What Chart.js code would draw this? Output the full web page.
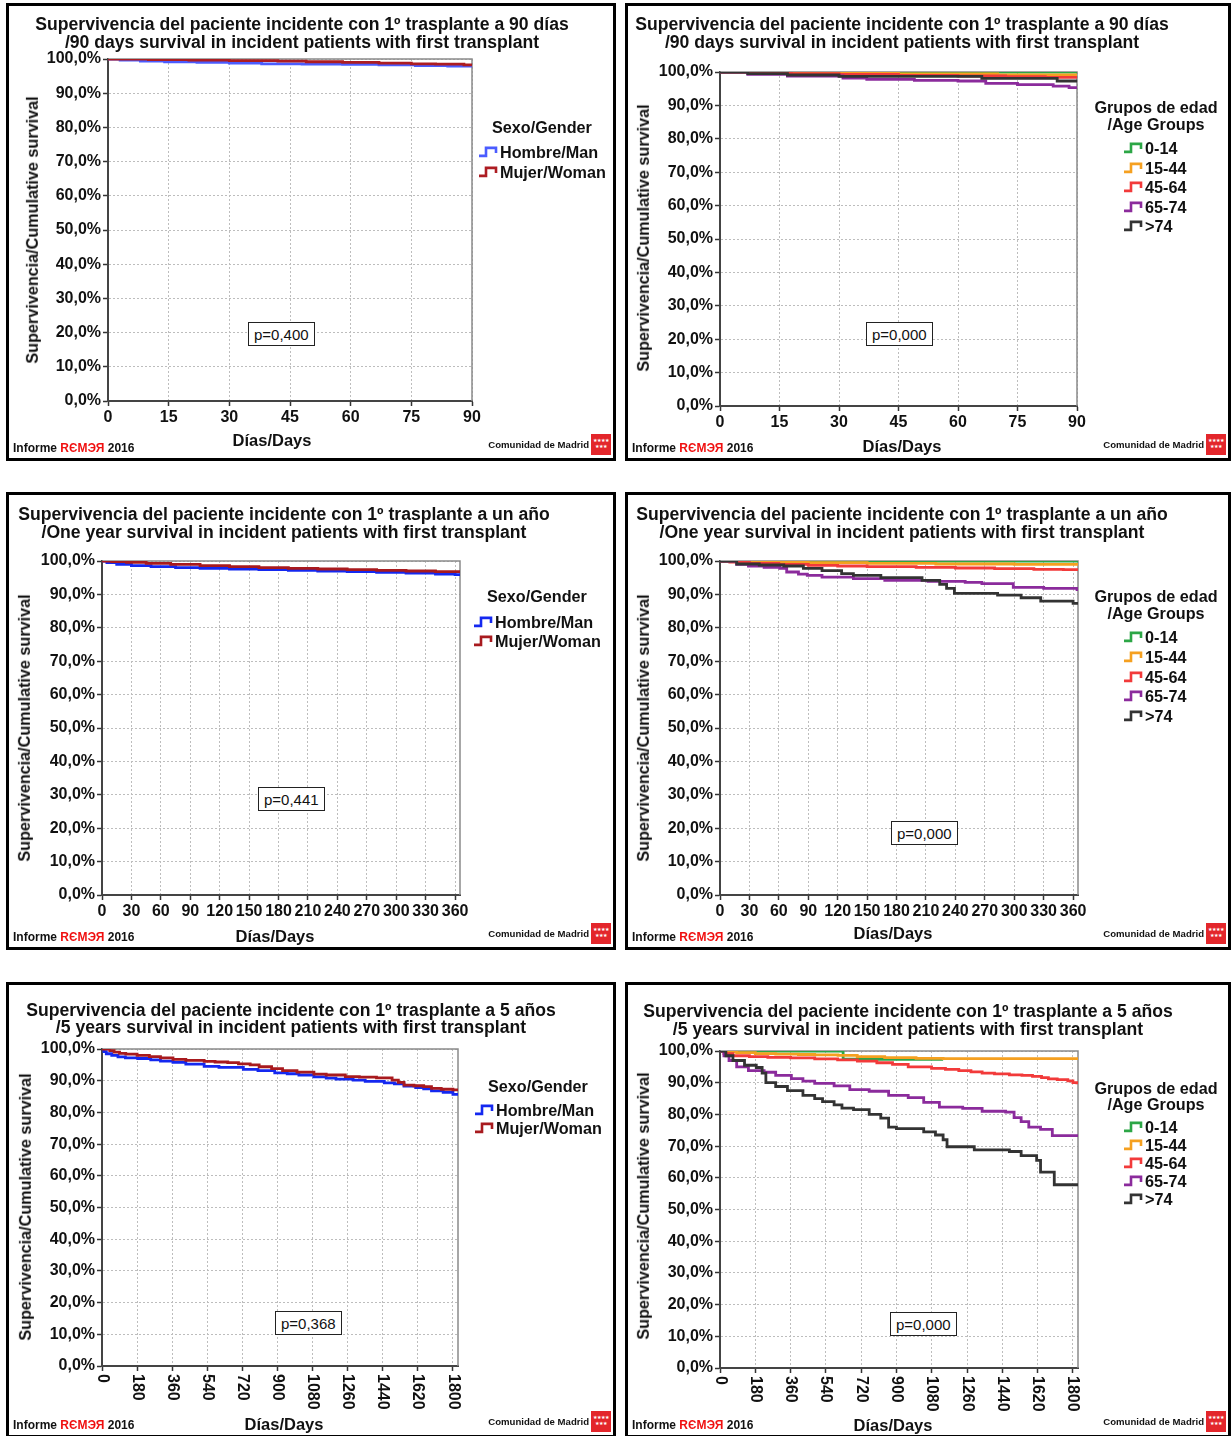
<!DOCTYPE html>
<html>
<head>
<meta charset="utf-8">
<script src="https://cdn.jsdelivr.net/npm/chart.js@4/dist/chart.umd.min.js"></script>
<style>
  html, body { margin: 0; padding: 0; background: #fff; }
  body { width: 1231px; height: 1436px; position: relative; overflow: hidden;
         font-family: "Liberation Sans", Arial, sans-serif; color: #111; }
  .panel { position: absolute; border: 3px solid #000; box-sizing: border-box; }
  canvas { position: absolute; }
  .t { position: absolute; white-space: nowrap; font-weight: bold; line-height: 1; }
  .ttl { font-size: 17.6px; }
  .axt { font-size: 16.2px; }
  .xt { font-size: 16.5px; }
  .legt { font-size: 16.2px; }
  .leg { font-size: 16.2px; display: flex; align-items: center; }
  .leg svg { margin-right: 1px; }
  .pbox { font-weight: normal; font-size: 15px; border: 1px solid #222; background: #fff;
          padding: 4px 5px 3px 5px; z-index: 5; }
  .foot { font-size: 12px; }
  .foot span { color: #f01010; }
  .mad { font-size: 9.6px; }
  .logo { position: absolute; width: 20px; height: 21px; background: #e3262b; color: #fff;
          font-size: 5px; line-height: 6px; text-align: center; padding-top: 3px; box-sizing: border-box; }
</style>
</head>
<body>
<script>
"use strict";

// ---- ejes / axes ----
const xTicks90 = [0, 15, 30, 45, 60, 75, 90];
const xTicks1y = [0, 30, 60, 90, 120, 150, 180, 210, 240, 270, 300, 330, 360];
const xTicks5y = [0, 180, 360, 540, 720, 900, 1080, 1260, 1440, 1620, 1800];
const yTicks = [0, 10, 20, 30, 40, 50, 60, 70, 80, 90, 100];

const genderLabels = ["Hombre/Man", "Mujer/Woman"];
const ageLabels = ["0-14", "15-44", "45-64", "65-74", ">74"];
const pValues = ["p=0,400", "p=0,000", "p=0,441", "p=0,000", "p=0,368", "p=0,000"];

// ---- 90 días, sexo ----
const man90Days   = [0, 3, 8, 14, 22, 30, 38, 48, 58, 67, 76, 84, 90];
const man90Surv   = [100, 99.7, 99.4, 99.2, 99.0, 98.8, 98.6, 98.5, 98.4, 98.3, 98.1, 97.9, 97.8];
const woman90Days = [0, 10, 20, 30, 42, 49, 58, 67, 75, 81, 88, 90];
const woman90Surv = [100, 99.8, 99.7, 99.5, 99.4, 99.2, 99.0, 98.8, 98.6, 98.5, 98.3, 98.3];

// ---- 90 días, edad ----
const a0_14_90Days  = [0, 90];
const a0_14_90Surv  = [100, 100];
const a15_44_90Days = [0, 25, 45, 70, 90];
const a15_44_90Surv = [100, 99.7, 99.4, 99.1, 99.1];
const a45_64_90Days = [0, 8, 18, 30, 45, 60, 72, 82, 90];
const a45_64_90Surv = [100, 99.8, 99.5, 99.3, 99.0, 98.8, 98.6, 98.4, 98.3];
const a65_74_90Days = [0, 7, 17, 31, 37, 49, 60, 67, 75, 84, 88, 90];
const a65_74_90Surv = [100, 99.3, 98.8, 98.2, 97.8, 97.5, 97.3, 96.6, 96.2, 95.8, 95.3, 95.3];
const a74_90Days    = [0, 7, 17, 30, 66, 85, 90];
const a74_90Surv    = [100, 99.5, 99.1, 98.7, 98.1, 97.3, 97.3];

// ---- un año, sexo ----
const man1yDays   = [0, 5, 15, 30, 50, 75, 100, 130, 160, 190, 220, 250, 280, 310, 340, 360, 365];
const man1ySurv   = [100, 99.5, 99.0, 98.6, 98.3, 98.0, 97.8, 97.6, 97.4, 97.2, 97.0, 96.8, 96.6, 96.4, 96.1, 95.9, 95.8];
const woman1yDays = [0, 10, 25, 45, 70, 100, 130, 160, 190, 220, 250, 280, 310, 340, 365];
const woman1ySurv = [100, 99.8, 99.6, 99.3, 99.0, 98.6, 98.3, 98.0, 97.8, 97.6, 97.4, 97.2, 97.0, 96.8, 96.6];

// ---- un año, edad ----
const a0_14_1yDays  = [0, 365];
const a0_14_1ySurv  = [100, 100];
const a15_44_1yDays = [0, 40, 90, 150, 220, 300, 365];
const a15_44_1ySurv = [100, 99.7, 99.5, 99.3, 99.1, 99.0, 99.0];
const a45_64_1yDays = [0, 10, 30, 60, 90, 120, 150, 200, 240, 280, 320, 350, 365];
const a45_64_1ySurv = [100, 99.7, 99.3, 99.0, 98.7, 98.5, 98.3, 98.1, 97.9, 97.7, 97.5, 97.4, 97.3];
const a65_74_1yDays = [0, 17, 29, 45, 61, 68, 80, 89, 104, 136, 168, 212, 250, 267, 299, 330, 364, 365];
const a65_74_1ySurv = [100, 99.0, 98.5, 98.1, 97.8, 96.7, 96.1, 95.7, 95.2, 94.7, 94.2, 93.9, 93.6, 93.2, 92.1, 91.8, 91.4, 91.4];
const a74_1yDays    = [0, 17, 40, 65, 85, 104, 124, 136, 164, 206, 224, 231, 239, 283, 307, 327, 360, 365];
const a74_1ySurv    = [100, 99.1, 98.8, 98.5, 97.8, 97.1, 96.2, 95.7, 95.0, 94.2, 93.0, 91.8, 90.3, 89.8, 89.0, 88.0, 87.3, 87.0];

// ---- 5 años, sexo ----
const man5yDays   = [0, 10, 22, 50, 82, 120, 183, 250, 300, 364, 430, 524, 600, 725, 800, 886, 950, 1010, 1087, 1150, 1200, 1288, 1350, 1448, 1500, 1549, 1609, 1650, 1690, 1750, 1800, 1826];
const man5ySurv   = [100, 99.2, 98.5, 98.0, 97.5, 97.2, 97.0, 96.6, 96.2, 95.8, 95.2, 94.5, 94.2, 93.6, 93.2, 92.5, 92.2, 91.8, 91.2, 90.8, 90.5, 90.2, 89.8, 89.3, 89.0, 88.3, 87.8, 87.4, 86.8, 86.3, 85.7, 85.5];
const woman5yDays = [0, 22, 40, 62, 90, 122, 180, 243, 300, 364, 430, 524, 580, 645, 700, 760, 806, 870, 926, 1000, 1087, 1150, 1248, 1320, 1408, 1488, 1520, 1549, 1600, 1650, 1690, 1740, 1800, 1826];
const woman5ySurv = [100, 100, 99.5, 99.0, 98.6, 98.4, 98.0, 97.6, 97.2, 96.7, 96.4, 96.1, 95.9, 95.7, 95.3, 95.0, 94.4, 93.8, 93.2, 92.7, 92.1, 91.8, 91.3, 91.1, 90.9, 90.2, 89.5, 88.6, 88.4, 88.1, 87.6, 87.3, 87.1, 87.0];

// ---- 5 años, edad ----
const a0_14_5yDays  = [0, 628, 1138];
const a0_14_5ySurv  = [100, 97.4, 97.4];
const a15_44_5yDays = [0, 40, 85, 180, 284, 400, 483, 602, 700, 840, 1000, 1138, 1826];
const a15_44_5ySurv = [100, 99.7, 99.5, 99.2, 99.0, 98.9, 98.8, 98.6, 98.2, 97.9, 97.7, 97.6, 97.6];
const a45_64_5yDays = [0, 20, 66, 150, 244, 360, 483, 600, 701, 800, 880, 960, 1079, 1150, 1218, 1280, 1337, 1400, 1476, 1540, 1594, 1640, 1675, 1720, 1774, 1800, 1820];
const a45_64_5ySurv = [100, 99.2, 98.5, 98.2, 98.0, 97.8, 97.5, 97.2, 96.8, 96.3, 95.8, 95.0, 94.5, 94.2, 93.8, 93.4, 93.0, 92.8, 92.5, 92.3, 92.0, 91.6, 91.2, 91.0, 90.6, 90.0, 89.5];
const a65_74_5yDays = [0, 20, 46, 85, 145, 225, 284, 364, 423, 483, 582, 662, 761, 860, 960, 1039, 1119, 1238, 1337, 1457, 1500, 1536, 1575, 1635, 1695, 1826];
const a65_74_5ySurv = [100, 98.5, 97.0, 95.0, 93.8, 93.3, 92.3, 91.3, 90.5, 89.8, 89.0, 87.8, 87.3, 86.0, 85.3, 83.8, 82.3, 81.9, 81.0, 80.7, 79.0, 77.7, 76.0, 75.3, 73.3, 73.3];
const a74_5yDays    = [0, 30, 66, 125, 185, 215, 234, 284, 344, 423, 483, 523, 582, 622, 681, 761, 820, 860, 900, 1039, 1099, 1138, 1158, 1297, 1476, 1536, 1615, 1635, 1705, 1826];
const a74_5ySurv    = [100, 98.5, 97.0, 95.5, 94.8, 93.0, 90.0, 88.8, 87.5, 86.0, 85.0, 84.0, 83.0, 82.0, 81.5, 80.0, 78.8, 76.0, 75.5, 74.5, 73.5, 72.0, 69.8, 68.8, 68.3, 67.0, 65.5, 61.8, 57.8, 57.8];

// ---- colores ----
const genderColorsLight = ["#4b5cff", "#ad1c22"];
const genderColors = ["#1428f0", "#a81a1e"];
const ageColors = ["#2ca646", "#f5a020", "#f23a3a", "#8b2b9c", "#333333"];

const TITLE_90 = "Supervivencia del paciente incidente con 1º trasplante a 90 días";
const TITLE_1Y = "Supervivencia del paciente incidente con 1º trasplante a un año";
const TITLE_5Y = "Supervivencia del paciente incidente con 1º trasplante a 5 años";

Chart.defaults.font.family = '"Liberation Sans", Arial, sans-serif';
Chart.defaults.color = "#111";

const Y_W = 75;

// marco gris arriba y a la derecha del área de trazado
const frame = {
  id: "frame",
  beforeDatasetsDraw(chart) {
    const { ctx, chartArea: a } = chart;
    ctx.save();
    ctx.strokeStyle = "#8a8a8a";
    ctx.lineWidth = 1.5;
    ctx.beginPath();
    ctx.moveTo(a.left, a.top);
    ctx.lineTo(a.right, a.top);
    ctx.lineTo(a.right, a.bottom);
    ctx.stroke();
    ctx.restore();
  }
};

// etiquetas del eje x giradas 90º en sentido horario
const vertTicks = {
  id: "vertTicks",
  afterDraw(chart) {
    const s = chart.scales.x, ctx = chart.ctx;
    ctx.save();
    ctx.font = 'bold 16px "Liberation Sans", Arial, sans-serif';
    ctx.fillStyle = "#111";
    ctx.textAlign = "left";
    ctx.textBaseline = "middle";
    s.ticks.forEach(t => {
      ctx.save();
      ctx.translate(s.getPixelForValue(t.value), s.top + 8);
      ctx.rotate(Math.PI / 2);
      ctx.fillText(String(t.value), 0, 0);
      ctx.restore();
    });
    ctx.restore();
  }
};

function put(html, x, y, cls, anchor) {
  const el = document.createElement("div");
  el.className = "t " + cls;
  el.innerHTML = html;
  el.style.left = x + "px";
  el.style.top = y + "px";
  el.style.transform = anchor === "left" ? "translate(0,-50%)"
    : anchor === "right" ? "translate(-100%,-50%)"
    : anchor === "rot" ? "translate(-50%,-50%) rotate(-90deg)"
    : "translate(-50%,-50%)";
  document.body.appendChild(el);
  return el;
}

function stepIcon(color) {
  return `<svg width="21" height="12"><polyline points="1,10 8,10 8,2 18,2 18,7" fill="none" stroke="${color}" stroke-width="2.6"/></svg>`;
}

function makePanel(cfg) {
  const [bl, bt, bw, bh] = cfg.box;
  const [L, T, R, B] = cfg.plot;

  const box = document.createElement("div");
  box.className = "panel";
  Object.assign(box.style, { left: bl + "px", top: bt + "px", width: bw + "px", height: bh + "px" });
  document.body.appendChild(box);

  const cx = bl + 3, cy = bt + 3, cw = bw - 6, ch = bh - 6;
  const canvas = document.createElement("canvas");
  canvas.width = cw;
  canvas.height = ch;
  Object.assign(canvas.style, { left: cx + "px", top: cy + "px", width: cw + "px", height: ch + "px" });
  document.body.appendChild(canvas);

  const xH = cfg.rot ? 48 : 26;
  const datasets = cfg.series.map(([days, surv], i) => ({
    label: cfg.labels[i],
    data: days.map((d, k) => ({ x: d, y: surv[k] })),
    borderColor: cfg.colors[i],
    borderWidth: 2.8,
    stepped: "before",
    pointRadius: 0,
    fill: false,
    order: -i
  }));

  new Chart(canvas, {
    type: "line",
    data: { datasets },
    options: {
      responsive: false,
      animation: false,
      events: [],
      layout: { padding: { left: L - cx - Y_W, top: T - cy, right: cx + cw - R, bottom: cy + ch - B - xH } },
      plugins: { legend: { display: false }, tooltip: { enabled: false } },
      scales: {
        x: {
          type: "linear", min: 0, max: cfg.max,
          afterBuildTicks: s => { s.ticks = cfg.ticks.map(v => ({ value: v })); },
          afterFit: s => { s.height = xH; },
          ticks: { display: !cfg.rot, autoSkip: false, maxRotation: 0, padding: 2,
                   callback: v => String(v), font: { size: 16, weight: "bold" } },
          grid: { color: "#bdbdbd", lineWidth: 1, tickLength: 5, tickColor: "#333", tickWidth: 1.5 },
          border: { color: "#444", width: 2, dash: [2, 2] }
        },
        y: {
          min: 0, max: 100,
          afterBuildTicks: s => { s.ticks = yTicks.map(v => ({ value: v })); },
          afterFit: s => { s.width = Y_W; },
          ticks: { padding: 2, callback: v => v.toFixed(1).replace(".", ",") + "%",
                   font: { size: 16, weight: "bold" } },
          grid: { color: "#bdbdbd", lineWidth: 1, tickLength: 5, tickColor: "#333", tickWidth: 1.5 },
          border: { color: "#444", width: 2, dash: [2, 2] }
        }
      }
    },
    plugins: cfg.rot ? [frame, vertTicks] : [frame]
  });

  // títulos
  put(cfg.title[0], cfg.titleX, cfg.titleY[0], "ttl");
  put(cfg.title[1], cfg.titleX, cfg.titleY[1], "ttl");
  put("Supervivencia/Cumulative survival", cfg.yTitle[0], cfg.yTitle[1], "axt", "rot");
  put("Días/Days", cfg.xTitle[0], cfg.xTitle[1], "xt");

  // leyenda
  const lg = cfg.legend;
  lg.titles.forEach((t, i) => put(t, lg.titleX, lg.titleY[i], "legt"));
  cfg.labels.forEach((lab, i) => {
    put(stepIcon(cfg.colors[i]) + lab, lg.x, lg.y0 + i * lg.dy, "leg", "left");
  });

  // p valor
  const p = put(cfg.p, cfg.pAt[0], cfg.pAt[1], "pbox", "left");
  p.style.transform = "none";

  // pie
  const bottom = bt + bh;
  const right = bl + bw;
  put('Informe <span>RЄMЭЯ</span> 2016', bl + 7, bottom - 13, "foot", "left");
  put("Comunidad de Madrid", right - 27, bottom - 16, "mad", "right");
  const logo = document.createElement("div");
  logo.className = "logo";
  logo.innerHTML = "★★★★<br>★★★";
  Object.assign(logo.style, { left: (right - 25) + "px", top: (bottom - 27) + "px" });
  document.body.appendChild(logo);
}

const sub90 = "/90 days survival in incident patients with first transplant";
const sub1y = "/One year survival in incident patients with first transplant";
const sub5y = "/5 years survival in incident patients with first transplant";

const genderLegend = (x, titleX, ty, y0, dy) => ({ titles: ["Sexo/Gender"], titleX, titleY: [ty], x, y0, dy });
const ageLegend = (ty1, ty2, y0, dy) => ({ titles: ["Grupos de edad", "/Age Groups"], titleX: 1156, titleY: [ty1, ty2], x: 1123, y0, dy });

makePanel({
  box: [6, 3, 610, 458], plot: [108, 59, 472, 401], max: 90, ticks: xTicks90, rot: false,
  title: [TITLE_90, sub90], titleX: 302, titleY: [25, 43], yTitle: [32, 230], xTitle: [272, 440],
  labels: genderLabels, colors: genderColorsLight,
  series: [[man90Days, man90Surv], [woman90Days, woman90Surv]],
  legend: genderLegend(478, 542, 127, 152, 20), p: pValues[0], pAt: [248, 322]
});
makePanel({
  box: [625, 3, 606, 458], plot: [720, 72, 1077, 406], max: 90, ticks: xTicks90, rot: false,
  title: [TITLE_90, sub90], titleX: 902, titleY: [25, 43], yTitle: [643, 238], xTitle: [902, 446],
  labels: ageLabels, colors: ageColors,
  series: [[a0_14_90Days, a0_14_90Surv], [a15_44_90Days, a15_44_90Surv], [a45_64_90Days, a45_64_90Surv],
           [a65_74_90Days, a65_74_90Surv], [a74_90Days, a74_90Surv]],
  legend: ageLegend(107, 124, 148, 19.5), p: pValues[1], pAt: [866, 322]
});
makePanel({
  box: [6, 492, 610, 458], plot: [102, 561, 460, 895], max: 365, ticks: xTicks1y, rot: false,
  title: [TITLE_1Y, sub1y], titleX: 284, titleY: [515, 533], yTitle: [24, 728], xTitle: [275, 936],
  labels: genderLabels, colors: genderColors,
  series: [[man1yDays, man1ySurv], [woman1yDays, woman1ySurv]],
  legend: genderLegend(473, 537, 596, 622, 19), p: pValues[2], pAt: [258, 787]
});
makePanel({
  box: [625, 492, 606, 458], plot: [720, 561, 1078, 895], max: 365, ticks: xTicks1y, rot: false,
  title: [TITLE_1Y, sub1y], titleX: 902, titleY: [515, 533], yTitle: [643, 728], xTitle: [893, 933],
  labels: ageLabels, colors: ageColors,
  series: [[a0_14_1yDays, a0_14_1ySurv], [a15_44_1yDays, a15_44_1ySurv], [a45_64_1yDays, a45_64_1ySurv],
           [a65_74_1yDays, a65_74_1ySurv], [a74_1yDays, a74_1ySurv]],
  legend: ageLegend(596, 613, 637, 19.75), p: pValues[3], pAt: [891, 821]
});
makePanel({
  box: [6, 982, 610, 456], plot: [102, 1049, 458, 1366], max: 1826, ticks: xTicks5y, rot: true,
  title: [TITLE_5Y, sub5y], titleX: 291, titleY: [1011, 1028], yTitle: [25, 1207], xTitle: [284, 1424],
  labels: genderLabels, colors: genderColors,
  series: [[man5yDays, man5ySurv], [woman5yDays, woman5ySurv]],
  legend: genderLegend(474, 538, 1086, 1110, 18), p: pValues[4], pAt: [275, 1311]
});
makePanel({
  box: [625, 982, 606, 456], plot: [720, 1051, 1078, 1368], max: 1826, ticks: xTicks5y, rot: true,
  title: [TITLE_5Y, sub5y], titleX: 908, titleY: [1012, 1030], yTitle: [643, 1206], xTitle: [893, 1425],
  labels: ageLabels, colors: ageColors,
  series: [[a0_14_5yDays, a0_14_5ySurv], [a15_44_5yDays, a15_44_5ySurv], [a45_64_5yDays, a45_64_5ySurv],
           [a65_74_5yDays, a65_74_5ySurv], [a74_5yDays, a74_5ySurv]],
  legend: ageLegend(1088, 1104, 1127, 18), p: pValues[5], pAt: [890, 1312]
});
</script>
</body>
</html>
